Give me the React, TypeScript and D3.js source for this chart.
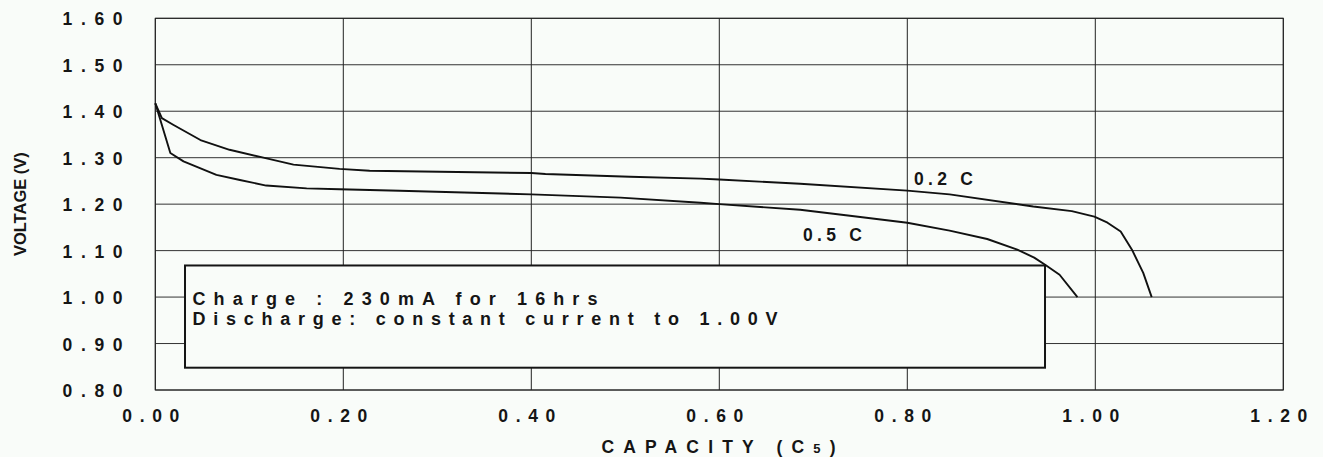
import React from "react";
import * as d3 from "d3";

const xTicks = [0, 0.2, 0.4, 0.6, 0.8, 1.0, 1.2];
const yTicks = [0.8, 0.9, 1.0, 1.1, 1.2, 1.3, 1.4, 1.5, 1.6];

const cap02 = [0, 0.007, 0.019, 0.048, 0.079, 0.115, 0.147, 0.196, 0.228, 0.4, 0.415, 0.505, 0.58, 0.6, 0.686, 0.8, 0.845, 0.934, 0.975, 0.999, 1.013, 1.027, 1.039, 1.051, 1.06];
const volt02 = [1.417, 1.385, 1.371, 1.338, 1.317, 1.3, 1.285, 1.276, 1.272, 1.267, 1.265, 1.259, 1.255, 1.253, 1.244, 1.229, 1.221, 1.195, 1.185, 1.173, 1.16, 1.141, 1.102, 1.052, 1.0];

const cap05 = [0, 0.016, 0.03, 0.065, 0.09, 0.118, 0.161, 0.196, 0.26, 0.4, 0.495, 0.58, 0.6, 0.686, 0.739, 0.8, 0.845, 0.885, 0.917, 0.935, 0.947, 0.962, 0.981];
const volt05 = [1.417, 1.31, 1.292, 1.263, 1.252, 1.24, 1.234, 1.232, 1.229, 1.221, 1.214, 1.203, 1.2, 1.188, 1.175, 1.16, 1.143, 1.125, 1.102, 1.085, 1.069, 1.048, 1.0];

const noteLines = ["Charge : 230mA for 16hrs", "Discharge: constant current to 1.00V"];
const seriesLabels = ["0.2 C", "0.5 C"];

const W = 1323;
const H = 457;
const FONT = "Arimo, 'Liberation Sans', Arial, sans-serif";
const BG = "#f9fcf9";
const INK = "#151515";

export default function App() {
  const x = d3.scaleLinear().domain([0, 1.2]).range([155.3, 1283.3]);
  const y = d3.scaleLinear().domain([0.8, 1.6]).range([390, 18.3]);
  const line = d3
    .line<[number, number]>()
    .x((d) => x(d[0]))
    .y((d) => y(d[1]))
    .curve(d3.curveLinear);

  const d02 = line(cap02.map((c, i) => [c, volt02[i]] as [number, number])) || "";
  const d05 = line(cap05.map((c, i) => [c, volt05[i]] as [number, number])) || "";

  const fmt = d3.format(".2f");

  const boxL = x(0.0316);
  const boxR = x(0.9465);
  const boxT = y(1.068);
  const boxB = y(0.848);

  const tStyle = { fontFamily: FONT, fontWeight: 700 as const, fill: INK };

  return (
    <svg
      width={W}
      height={H}
      style={{ position: "absolute", left: 0, top: 0, background: BG }}
    >
      <rect x={0} y={0} width={W} height={H} fill={BG} />
      {/* grid */}
      {yTicks.map((t) => (
        <line key={"hy" + t} x1={x(0)} x2={x(1.2)} y1={y(t)} y2={y(t)} stroke="#333" strokeWidth={1} />
      ))}
      {xTicks.map((t) => (
        <line key={"vx" + t} x1={x(t)} x2={x(t)} y1={y(0.8)} y2={y(1.6)} stroke="#222" strokeWidth={1} />
      ))}
      <rect x={x(0)} y={y(1.6)} width={x(1.2) - x(0)} height={y(0.8) - y(1.6)} fill="none" stroke="#222" strokeWidth={1} />

      {/* note box */}
      <rect x={boxL} y={boxT} width={boxR - boxL} height={boxB - boxT} fill={BG} stroke={INK} strokeWidth={2} />
      <text x={192.5} y={304.5} {...tStyle} fontSize={18} textLength={405} lengthAdjust="spacing">
        {noteLines[0]}
      </text>
      <text x={192.5} y={324.5} {...tStyle} fontSize={18} textLength={585} lengthAdjust="spacing">
        {noteLines[1]}
      </text>

      {/* curves */}
      <path d={d02} fill="none" stroke="#111" strokeWidth={1.9} strokeLinejoin="round" />
      <path d={d05} fill="none" stroke="#111" strokeWidth={1.9} strokeLinejoin="round" />

      {/* series labels */}
      <text x={914} y={184.5} {...tStyle} fontSize={17.5} textLength={59} lengthAdjust="spacing">
        {seriesLabels[0]}
      </text>
      <text x={803} y={240.5} {...tStyle} fontSize={17.5} textLength={59} lengthAdjust="spacing">
        {seriesLabels[1]}
      </text>

      {/* y tick labels */}
      {yTicks.map((t) => (
        <text key={"yl" + t} x={62.5} y={y(t) + 7} {...tStyle} fontSize={17.5} textLength={60} lengthAdjust="spacing">
          {fmt(t)}
        </text>
      ))}
      {/* x tick labels */}
      {xTicks.map((t) => (
        <text key={"xl" + t} x={x(t) - 33} y={421.8} {...tStyle} fontSize={17.5} textLength={57} lengthAdjust="spacing">
          {fmt(t)}
        </text>
      ))}

      {/* axis titles */}
      <text x={601.5} y={452.8} {...tStyle} fontSize={17.5} textLength={234} lengthAdjust="spacing">
        CAPACITY (C<tspan fontSize={13}>5</tspan>)
      </text>
      <text
        transform={`translate(25.5, ${(y(0.8) + y(1.6)) / 2}) rotate(-90)`}
        textAnchor="middle"
        {...tStyle}
        fontSize={16.5}
      >
        VOLTAGE (V)
      </text>
    </svg>
  );
}
